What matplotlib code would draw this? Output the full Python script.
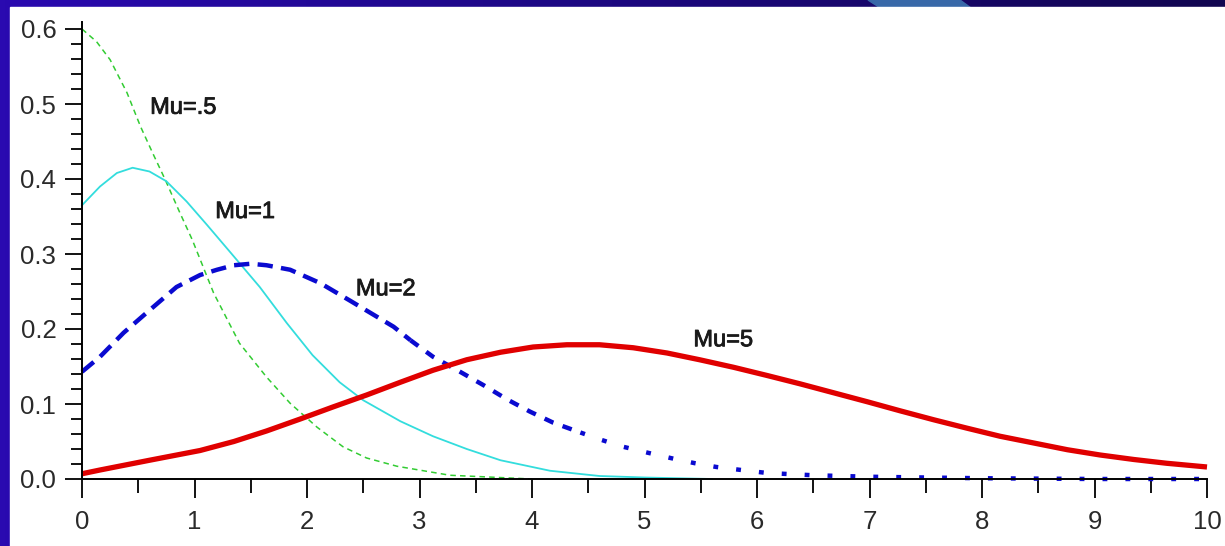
import numpy as np
import matplotlib
matplotlib.use("Agg")
import matplotlib.pyplot as plt
import matplotlib.patheffects as pe
from matplotlib.patches import Rectangle, Polygon
from matplotlib.ticker import MultipleLocator

plt.rcParams['font.family'] = ['Liberation Sans', 'DejaVu Sans']
plt.rcParams['lines.scale_dashes'] = False

# curves
x_mu05 = [0, 0.13, 0.25, 0.40, 0.52, 0.63, 0.74, 0.87, 0.98, 1.17, 1.40, 1.64, 1.85,
          2.09, 2.32, 2.53, 2.80, 3.27, 4.0]
y_mu05 = [0.600, 0.583, 0.559, 0.515, 0.470, 0.434, 0.399, 0.355, 0.319, 0.248, 0.181,
          0.136, 0.101, 0.069, 0.043, 0.028, 0.017, 0.005, 0.0]

x_mu1 = [0, 0.16, 0.31, 0.45, 0.60, 0.75, 0.93, 1.11, 1.32, 1.58, 1.82, 2.05, 2.29,
         2.50, 2.83, 3.12, 3.42, 3.72, 4.16, 4.6, 5.0, 5.6]
y_mu1 = [0.365, 0.390, 0.408, 0.415, 0.410, 0.397, 0.370, 0.339, 0.302, 0.256, 0.208,
         0.165, 0.129, 0.105, 0.077, 0.057, 0.040, 0.025, 0.011, 0.004, 0.002, 0.0]

x_mu2 = [0, 0.16, 0.37, 0.60, 0.84, 1.05, 1.20, 1.35, 1.50, 1.64, 1.85, 2.12, 2.38,
         2.77, 2.92, 3.12, 3.36, 3.57, 3.78, 3.98, 4.19, 4.43, 4.62, 4.81, 5.03, 5.26,
         5.45, 5.64, 5.86, 6.09, 6.5, 7.0, 7.5, 8.0, 9.0, 10.0]
y_mu2 = [0.143, 0.163, 0.195, 0.225, 0.256, 0.272, 0.279, 0.285, 0.287, 0.285, 0.279,
         0.261, 0.238, 0.203, 0.185, 0.163, 0.143, 0.125, 0.106, 0.090, 0.075, 0.062,
         0.052, 0.043, 0.035, 0.027, 0.021, 0.016, 0.012, 0.008, 0.005, 0.003, 0.002,
         0.001, 0.0, 0.0]

x_mu5 = [0, 0.16, 0.60, 1.05, 1.35, 1.64, 1.94, 2.23, 2.53, 2.83, 3.12, 3.42, 3.72,
         4.01, 4.31, 4.6, 4.9, 5.2, 5.49, 5.79, 6.09, 6.38, 6.68, 6.98, 7.27, 7.57,
         7.86, 8.16, 8.46, 8.76, 9.05, 9.35, 9.64, 10]
y_mu5 = [0.007, 0.012, 0.025, 0.038, 0.050, 0.064, 0.080, 0.096, 0.112, 0.129, 0.145,
         0.159, 0.169, 0.176, 0.179, 0.179, 0.175, 0.168, 0.159, 0.149, 0.138, 0.127,
         0.115, 0.103, 0.091, 0.079, 0.068, 0.057, 0.048, 0.039, 0.032, 0.026, 0.021,
         0.016]

labels = ['Mu=.5', 'Mu=1', 'Mu=2', 'Mu=5']
label_x = [0.90, 1.45, 2.70, 5.70]
label_y = [0.495, 0.356, 0.253, 0.185]

W, H = 1225, 546
fig = plt.figure(figsize=(W / 100, H / 100), dpi=100)

# dark blue backdrop
bg = fig.add_axes([0, 0, 1, 1])
grad = np.linspace(0, 1, 256)[None, :] * np.ones((20, 1))
bg.imshow(grad, aspect='auto', extent=[0, 1, 0, 1],
          cmap=matplotlib.colors.LinearSegmentedColormap.from_list(
              'bgb', ['#2a0ab0', '#1c0880', '#120650']))
bg.add_patch(Polygon([[868 / W, 1], [960 / W, 1], [975 / W, 0.98], [885 / W, 0.98]],
                     closed=True, color='#3868a8', zorder=2))
bg.add_patch(Rectangle((10 / W, 0), 1, (H - 7) / H, color='white', zorder=3))
bg.set_xlim(0, 1)
bg.set_ylim(0, 1)
bg.axis('off')

ymax = 0.61
ax = fig.add_axes([82 / W, (H - 479) / H, 1125 / W, ymax * 750 / H])
ax.patch.set_alpha(0)

ax.plot(x_mu05, y_mu05, color='#33cc33', lw=1.1, dashes=(4, 3), clip_on=False)
ax.plot(x_mu1, y_mu1, color='#33dddd', lw=1.3, clip_on=False)

# the Mu=2 curve: dashes that thin out to dots
xb = np.array(x_mu2)
yb = np.array(y_mu2)
m1 = xb <= 2.92
m2 = (xb >= 2.92) & (xb <= 4.43)
m3 = xb >= 4.43
ax.plot(xb[m1], yb[m1], color='#0a0ad0', lw=3.2, dashes=(11, 6), clip_on=False)
ax.plot(xb[m2], yb[m2], color='#0a0ad0', lw=3.2, dashes=(7, 7), clip_on=False)
ax.plot(xb[m3], yb[m3], color='#0a0ad0', lw=3.2, dashes=(3.5, 13), clip_on=False)

ax.plot(x_mu5, y_mu5, color='#e00000', lw=3.8, clip_on=False, solid_capstyle='butt')

for t, lx, ly in zip(labels, label_x, label_y):
    ax.text(lx, ly, t, fontsize=17, color='#1a1a1a', ha='center', va='center',
            path_effects=[pe.withStroke(linewidth=0.6, foreground='#1a1a1a')])

ax.set_xlim(0, 10)
ax.set_ylim(0, ymax)
for s in ['top', 'right']:
    ax.spines[s].set_visible(False)
for s in ['left', 'bottom']:
    ax.spines[s].set_linewidth(1.4)
ax.spines['bottom'].set_position(('data', 0))

ax.xaxis.set_major_locator(MultipleLocator(1))
ax.xaxis.set_minor_locator(MultipleLocator(0.5))
ax.set_yticks([0.0, 0.1, 0.2, 0.3, 0.4, 0.5, 0.6])
ax.set_yticklabels(['0.0', '0.1', '0.2', '0.3', '0.4', '0.5', '0.6'])
ax.yaxis.set_minor_locator(MultipleLocator(0.02))

ax.tick_params(axis='x', which='major', length=13.5, width=1.3, pad=9,
               labelsize=18.5, labelcolor='#2a2a2a')
ax.tick_params(axis='x', which='minor', length=10, width=1.3)
ax.tick_params(axis='y', which='major', length=12.5, width=1.3, pad=6,
               labelsize=18.5, labelcolor='#2a2a2a')
ax.tick_params(axis='y', which='minor', length=8, width=1.3)

fig.savefig('out.png', dpi=100)
